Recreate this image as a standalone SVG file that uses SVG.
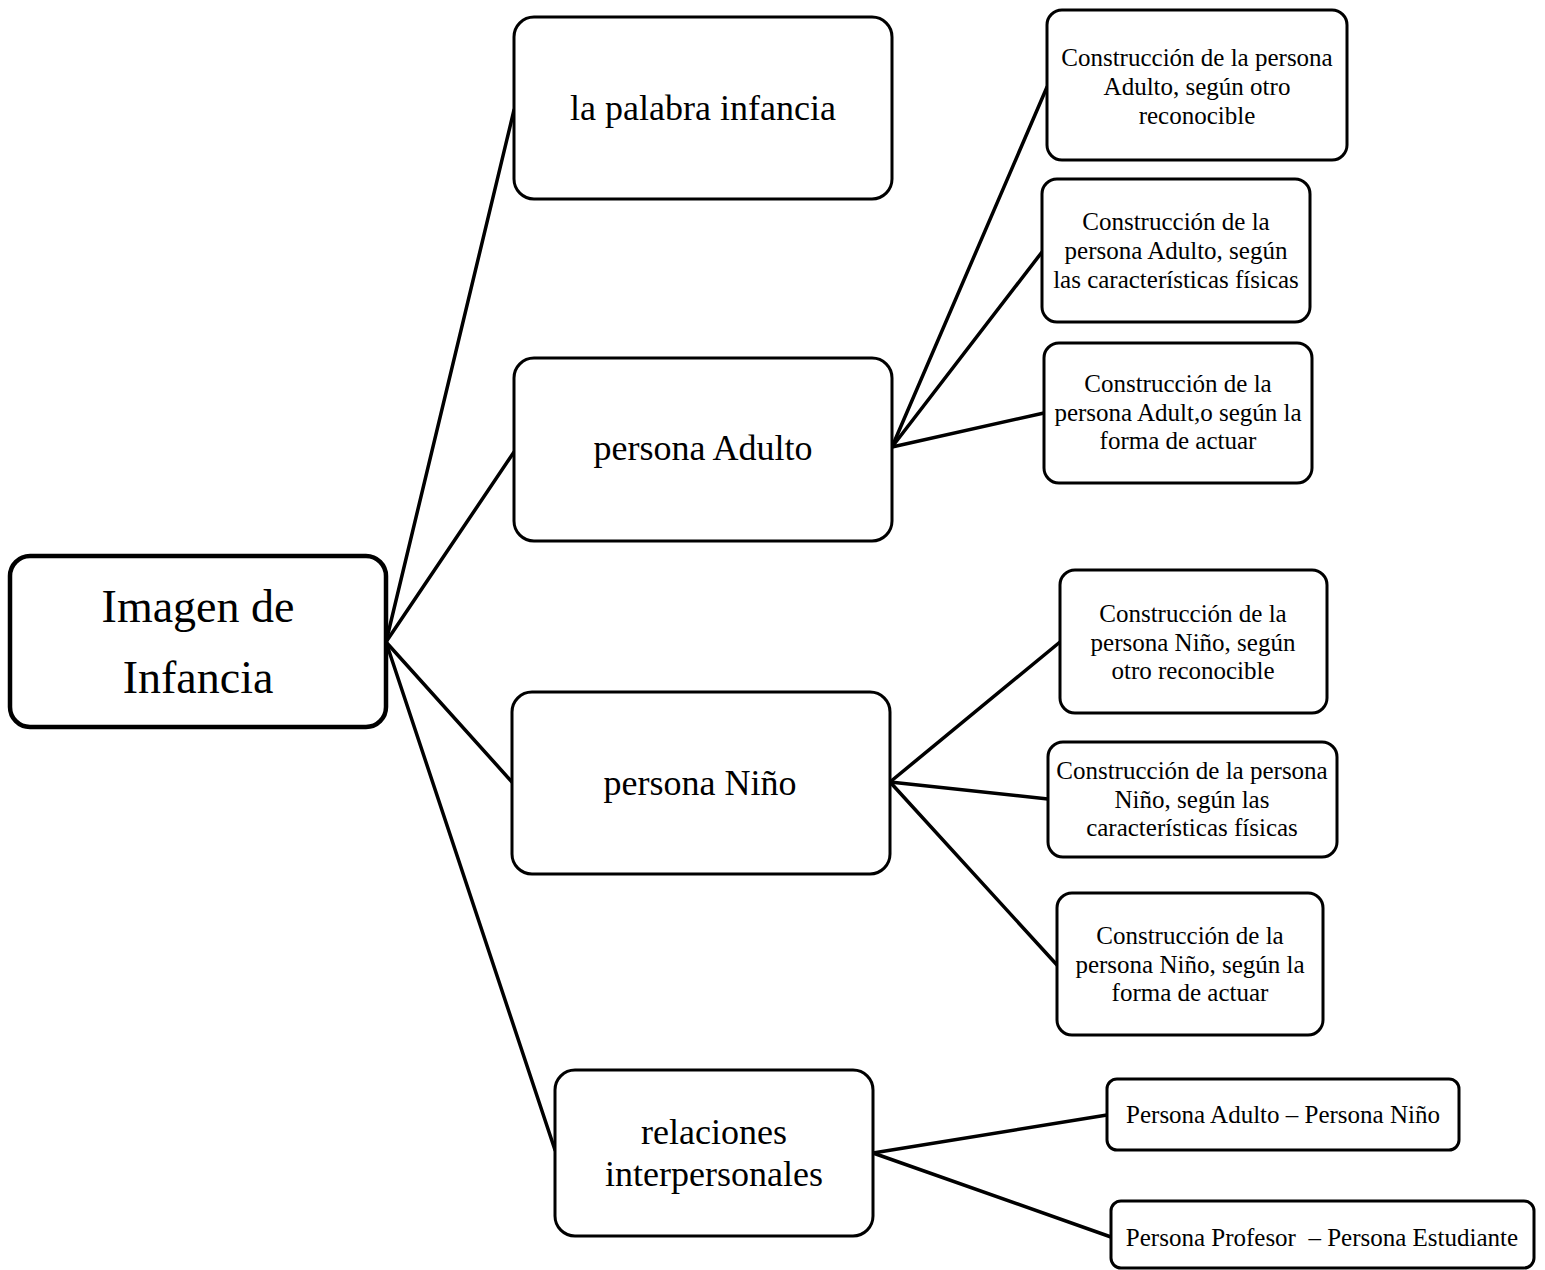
<svg xmlns="http://www.w3.org/2000/svg" width="1545" height="1270" viewBox="0 0 1545 1270">
<style>
.bg{fill:#ffffff}
.box{fill:#ffffff;stroke:#000000;stroke-width:3}
.root{fill:#ffffff;stroke:#000000;stroke-width:4.5}
.edge{stroke:#000000;stroke-width:3.5;fill:none;stroke-linecap:round}
text{font-family:"Liberation Serif","Times New Roman",serif;fill:#000000;text-anchor:middle}
.t46{font-size:46px}
.t36{font-size:36px}
.t25{font-size:25px}
</style>
<rect class="bg" x="0" y="0" width="1545" height="1270"/>
<g id="connectors">
  <line class="edge" x1="386" y1="642" x2="514" y2="110"/>
  <line class="edge" x1="386" y1="642" x2="514" y2="452"/>
  <line class="edge" x1="386" y1="642" x2="512" y2="782"/>
  <line class="edge" x1="386" y1="642" x2="555" y2="1150"/>
  <line class="edge" x1="892" y1="447" x2="1047" y2="87"/>
  <line class="edge" x1="892" y1="447" x2="1042" y2="252"/>
  <line class="edge" x1="892" y1="447" x2="1044" y2="413"/>
  <line class="edge" x1="890" y1="782" x2="1060" y2="642"/>
  <line class="edge" x1="890" y1="782" x2="1048" y2="799"/>
  <line class="edge" x1="890" y1="782" x2="1057" y2="965"/>
  <line class="edge" x1="873" y1="1153" x2="1107" y2="1115"/>
  <line class="edge" x1="873" y1="1153" x2="1111" y2="1237"/>
</g>
<g id="node-root">
  <rect class="root" x="10" y="556" width="376" height="171" rx="20"/>
  <text class="t46" x="198" y="622">Imagen de</text>
  <text class="t46" x="198" y="693">Infancia</text>
</g>
<g id="node-palabra">
  <rect class="box" x="514" y="17" width="378" height="182" rx="20"/>
  <text class="t36" x="703" y="120">la palabra infancia</text>
</g>
<g id="node-adulto">
  <rect class="box" x="514" y="358" width="378" height="183" rx="20"/>
  <text class="t36" x="703" y="460">persona Adulto</text>
</g>
<g id="node-nino">
  <rect class="box" x="512" y="692" width="378" height="182" rx="20"/>
  <text class="t36" x="700" y="795">persona Niño</text>
</g>
<g id="node-relaciones">
  <rect class="box" x="555" y="1070" width="318" height="166" rx="20"/>
  <text class="t36" x="714" y="1144">relaciones</text>
  <text class="t36" x="714" y="1186">interpersonales</text>
</g>
<g id="node-a1">
  <rect class="box" x="1047" y="10" width="300" height="150" rx="15"/>
  <text class="t25" x="1197" y="66">Construcción de la persona</text>
  <text class="t25" x="1197" y="95">Adulto, según otro</text>
  <text class="t25" x="1197" y="124">reconocible</text>
</g>
<g id="node-a2">
  <rect class="box" x="1042" y="179" width="268" height="143" rx="15"/>
  <text class="t25" x="1176" y="230">Construcción de la</text>
  <text class="t25" x="1176" y="259">persona Adulto, según</text>
  <text class="t25" x="1176" y="288">las características físicas</text>
</g>
<g id="node-a3">
  <rect class="box" x="1044" y="343" width="268" height="140" rx="15"/>
  <text class="t25" x="1178" y="392">Construcción de la</text>
  <text class="t25" x="1178" y="421">persona Adult,o según la</text>
  <text class="t25" x="1178" y="449">forma de actuar</text>
</g>
<g id="node-n1">
  <rect class="box" x="1060" y="570" width="267" height="143" rx="15"/>
  <text class="t25" x="1193" y="622">Construcción de la</text>
  <text class="t25" x="1193" y="651">persona Niño, según</text>
  <text class="t25" x="1193" y="679">otro reconocible</text>
</g>
<g id="node-n2">
  <rect class="box" x="1048" y="742" width="289" height="115" rx="15"/>
  <text class="t25" x="1192" y="779">Construcción de la persona</text>
  <text class="t25" x="1192" y="808">Niño, según las</text>
  <text class="t25" x="1192" y="836">características físicas</text>
</g>
<g id="node-n3">
  <rect class="box" x="1057" y="893" width="266" height="142" rx="15"/>
  <text class="t25" x="1190" y="944">Construcción de la</text>
  <text class="t25" x="1190" y="973">persona Niño, según la</text>
  <text class="t25" x="1190" y="1001">forma de actuar</text>
</g>
<g id="node-r1">
  <rect class="box" x="1107" y="1079" width="352" height="71" rx="10"/>
  <text class="t25" x="1283" y="1123">Persona Adulto – Persona Niño</text>
</g>
<g id="node-r2">
  <rect class="box" x="1111" y="1201" width="423" height="67" rx="10"/>
  <text class="t25" x="1322" y="1246" xml:space="preserve">Persona Profesor  – Persona Estudiante</text>
</g>
</svg>
